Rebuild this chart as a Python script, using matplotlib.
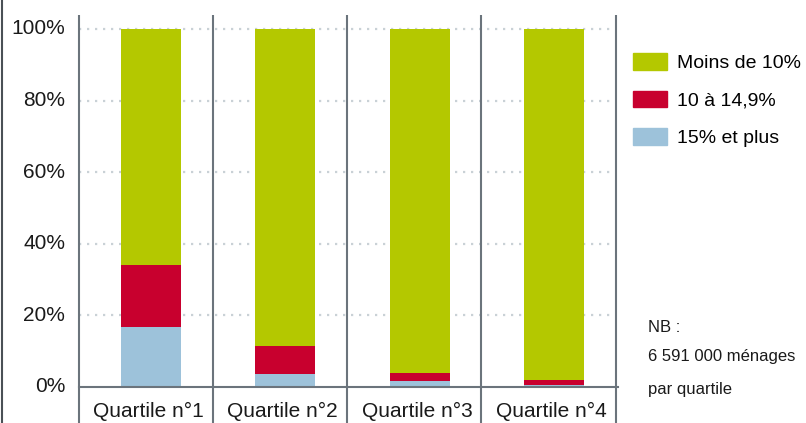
import matplotlib
matplotlib.use("Agg")
import matplotlib.pyplot as plt
from matplotlib.lines import Line2D
from matplotlib.patches import Patch
import numpy as np

plt.rcParams['font.family'] = ['Liberation Sans', 'DejaVu Sans']

# ── Data ─────────────────────────────────────────────────────────────────────
categories = ['Quartile n°1', 'Quartile n°2', 'Quartile n°3', 'Quartile n°4']
plus_15    = [16.8, 3.6, 1.8, 0.6]     # 15% et plus
de_10_15   = [17.2, 7.9, 2.1, 1.4]     # 10 à 14,9%
series_names = ['Moins de 10%', '10 à 14,9%', '15% et plus']
moins_10 = [100 - a - b for a, b in zip(plus_15, de_10_15)]
yticks = [0, 20, 40, 60, 80, 100]
note_lines = ['NB :', '6 591 000 ménages', 'par quartile']

GREEN = '#b4c800'
RED   = '#c8002e'
BLUE  = '#9dc2da'
LINE  = '#6b747c'
DOTS  = '#c9d1d6'
TXT   = '#1a1a1a'

W, H = 806, 423
fig = plt.figure(figsize=(W / 100, H / 100), dpi=100)
ax = fig.add_axes([78.7 / W, 0, (615.7 - 78.7) / W, 408 / H])
ax.set_xlim(-0.5, 3.5)
ax.set_ylim(-10.06, 103.91)
for s in ax.spines.values():
    s.set_visible(False)
ax.set_xticks([])
ax.set_yticks([])

# dotted gridlines
for v in yticks[1:]:
    ax.plot([-0.5, 3.5], [v, v], color=DOTS, lw=1.6, ls=(0, (1, 2.6)), zorder=0)

x = np.arange(len(categories)) + 0.04
bw = 0.447
ax.bar(x, plus_15, bw, color=BLUE, zorder=2)
ax.bar(x, de_10_15, bw, bottom=plus_15, color=RED, zorder=2)
ax.bar(x, moins_10, bw, bottom=np.add(plus_15, de_10_15), color=GREEN, zorder=2)

# group separators and baseline
ax.vlines(np.arange(len(categories) + 1) - 0.5, -10.06, 103.91, color=LINE, lw=1.5,
          clip_on=False, zorder=3)
ax.plot([-0.5, 3.52], [0, 0], color=LINE, lw=1.5, clip_on=False, zorder=3)

# outer left line
fig.add_artist(Line2D([2 / W, 2 / W], [0, 1], color='#4a5056', lw=1.5))

# y labels
for v in yticks:
    ax.text(-0.6, v, f'{v}%', ha='right', va='center', fontsize=15, color=TXT)

# category labels
for i, c in enumerate(categories):
    ax.text(i + 0.02, -6.7, c, ha='center', va='center', fontsize=15, color=TXT)

# legend
handles = [Patch(color=GREEN), Patch(color=RED), Patch(color=BLUE)]
fig.legend(handles, series_names, loc='upper left', bbox_to_anchor=(633 / W, 1 - 53 / H),
           frameon=False, fontsize=14, handlelength=1.75, handleheight=0.95,
           labelspacing=0.95, handletextpad=0.5, borderaxespad=0, borderpad=0)

# note
for txt, yp in zip(note_lines, [327, 356, 389]):
    fig.text(648 / W, 1 - yp / H, txt, ha='left', va='center', fontsize=12, color=TXT)

fig.savefig('out.png', dpi=100, facecolor='white')
